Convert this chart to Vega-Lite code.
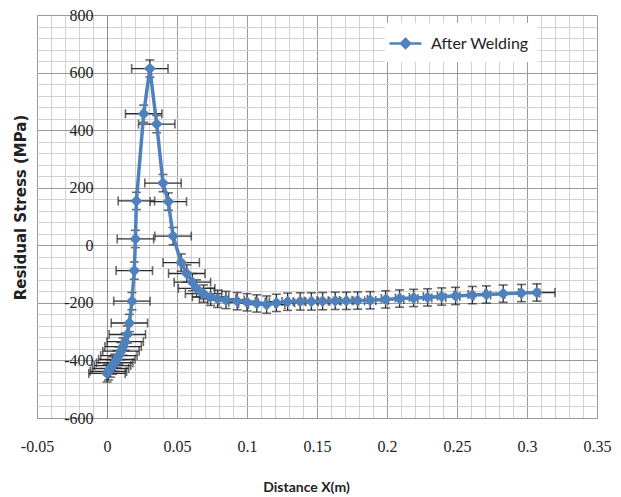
{
  "$schema": "https://vega.github.io/schema/vega-lite/v6.json",
  "width": 560,
  "height": 403,
  "autosize": {"type": "none"},
  "padding": {"left": 37, "top": 15, "right": 24, "bottom": 79},
  "background": "white",
  "config": {"view": {"stroke": "#8c8c8c", "strokeWidth": 1}},
  "data": {"values": [
    {"x": 0.000, "y": -445, "ex": 0.013, "ey": 30, "series": "After Welding"},
    {"x": 0.001, "y": -438, "ex": 0.013, "ey": 30, "series": "After Welding"},
    {"x": 0.0025, "y": -428, "ex": 0.013, "ey": 30, "series": "After Welding"},
    {"x": 0.004, "y": -418, "ex": 0.013, "ey": 30, "series": "After Welding"},
    {"x": 0.0055, "y": -408, "ex": 0.013, "ey": 30, "series": "After Welding"},
    {"x": 0.007, "y": -396, "ex": 0.013, "ey": 30, "series": "After Welding"},
    {"x": 0.0085, "y": -383, "ex": 0.013, "ey": 30, "series": "After Welding"},
    {"x": 0.010, "y": -368, "ex": 0.013, "ey": 30, "series": "After Welding"},
    {"x": 0.0115, "y": -352, "ex": 0.013, "ey": 30, "series": "After Welding"},
    {"x": 0.013, "y": -335, "ex": 0.013, "ey": 30, "series": "After Welding"},
    {"x": 0.0145, "y": -310, "ex": 0.013, "ey": 30, "series": "After Welding"},
    {"x": 0.016, "y": -270, "ex": 0.013, "ey": 30, "series": "After Welding"},
    {"x": 0.0178, "y": -194, "ex": 0.013, "ey": 30, "series": "After Welding"},
    {"x": 0.0195, "y": -88, "ex": 0.013, "ey": 30, "series": "After Welding"},
    {"x": 0.0203, "y": 22, "ex": 0.013, "ey": 30, "series": "After Welding"},
    {"x": 0.021, "y": 154, "ex": 0.013, "ey": 30, "series": "After Welding"},
    {"x": 0.0262, "y": 457, "ex": 0.013, "ey": 30, "series": "After Welding"},
    {"x": 0.0306, "y": 614, "ex": 0.013, "ey": 30, "series": "After Welding"},
    {"x": 0.0355, "y": 421, "ex": 0.013, "ey": 30, "series": "After Welding"},
    {"x": 0.040, "y": 216, "ex": 0.013, "ey": 30, "series": "After Welding"},
    {"x": 0.0438, "y": 152, "ex": 0.013, "ey": 30, "series": "After Welding"},
    {"x": 0.0472, "y": 32, "ex": 0.013, "ey": 30, "series": "After Welding"},
    {"x": 0.053, "y": -60, "ex": 0.013, "ey": 30, "series": "After Welding"},
    {"x": 0.057, "y": -98, "ex": 0.013, "ey": 30, "series": "After Welding"},
    {"x": 0.061, "y": -128, "ex": 0.013, "ey": 30, "series": "After Welding"},
    {"x": 0.064, "y": -150, "ex": 0.013, "ey": 30, "series": "After Welding"},
    {"x": 0.069, "y": -168, "ex": 0.013, "ey": 30, "series": "After Welding"},
    {"x": 0.074, "y": -179, "ex": 0.013, "ey": 30, "series": "After Welding"},
    {"x": 0.079, "y": -186, "ex": 0.013, "ey": 30, "series": "After Welding"},
    {"x": 0.085, "y": -190, "ex": 0.013, "ey": 30, "series": "After Welding"},
    {"x": 0.093, "y": -194, "ex": 0.013, "ey": 30, "series": "After Welding"},
    {"x": 0.100, "y": -198, "ex": 0.013, "ey": 30, "series": "After Welding"},
    {"x": 0.107, "y": -202, "ex": 0.013, "ey": 30, "series": "After Welding"},
    {"x": 0.114, "y": -206, "ex": 0.013, "ey": 30, "series": "After Welding"},
    {"x": 0.121, "y": -200, "ex": 0.013, "ey": 30, "series": "After Welding"},
    {"x": 0.129, "y": -196, "ex": 0.013, "ey": 30, "series": "After Welding"},
    {"x": 0.138, "y": -195, "ex": 0.013, "ey": 30, "series": "After Welding"},
    {"x": 0.146, "y": -195, "ex": 0.013, "ey": 30, "series": "After Welding"},
    {"x": 0.154, "y": -194, "ex": 0.013, "ey": 30, "series": "After Welding"},
    {"x": 0.163, "y": -193, "ex": 0.013, "ey": 30, "series": "After Welding"},
    {"x": 0.171, "y": -193, "ex": 0.013, "ey": 30, "series": "After Welding"},
    {"x": 0.179, "y": -192, "ex": 0.013, "ey": 30, "series": "After Welding"},
    {"x": 0.188, "y": -191, "ex": 0.013, "ey": 30, "series": "After Welding"},
    {"x": 0.199, "y": -188, "ex": 0.013, "ey": 30, "series": "After Welding"},
    {"x": 0.209, "y": -185, "ex": 0.013, "ey": 30, "series": "After Welding"},
    {"x": 0.219, "y": -183, "ex": 0.013, "ey": 30, "series": "After Welding"},
    {"x": 0.229, "y": -181, "ex": 0.013, "ey": 30, "series": "After Welding"},
    {"x": 0.239, "y": -178, "ex": 0.013, "ey": 30, "series": "After Welding"},
    {"x": 0.249, "y": -176, "ex": 0.013, "ey": 30, "series": "After Welding"},
    {"x": 0.261, "y": -173, "ex": 0.013, "ey": 30, "series": "After Welding"},
    {"x": 0.271, "y": -171, "ex": 0.013, "ey": 30, "series": "After Welding"},
    {"x": 0.283, "y": -168, "ex": 0.013, "ey": 30, "series": "After Welding"},
    {"x": 0.296, "y": -166, "ex": 0.013, "ey": 30, "series": "After Welding"},
    {"x": 0.307, "y": -164, "ex": 0.013, "ey": 30, "series": "After Welding"}
  ]},
  "layer": [
    {
      "mark": {"type": "errorbar", "color": "#2b2b2b", "thickness": 1.3, "ticks": {"size": 9, "thickness": 1.6, "color": "#2b2b2b"}},
      "encoding": {
        "x": {"field": "x", "type": "quantitative",
          "scale": {"domain": [-0.05, 0.35], "nice": false, "zero": false},
          "axis": {"orient": "bottom", "values": [-0.05,-0.04,-0.03,-0.02,-0.01,0,0.01,0.02,0.03,0.04,0.05,0.06,0.07,0.08,0.09,0.1,0.11,0.12,0.13,0.14,0.15,0.16,0.17,0.18,0.19,0.2,0.21,0.22,0.23,0.24,0.25,0.26,0.27,0.28,0.29,0.3,0.31,0.32,0.33,0.34,0.35],
            "grid": true, "gridColor": "#d2d2d2", "gridWidth": 1, "labels": false, "ticks": false, "domain": false, "title": null}},
        "xError": {"field": "ex"},
        "y": {"field": "y", "type": "quantitative",
          "scale": {"domain": [-600, 800], "nice": false, "zero": false},
          "axis": {"orient": "left", "values": [-600,-560,-520,-480,-440,-400,-360,-320,-280,-240,-200,-160,-120,-80,-40,0,40,80,120,160,200,240,280,320,360,400,440,480,520,560,600,640,680,720,760,800],
            "grid": true, "gridColor": "#d2d2d2", "gridWidth": 1, "labels": false, "ticks": false, "domain": false, "title": null}}
      }
    },
    {
      "mark": {"type": "errorbar", "color": "#2b2b2b", "thickness": 1.3, "ticks": {"size": 9, "thickness": 1.6, "color": "#2b2b2b"}},
      "encoding": {
        "x": {"field": "x", "type": "quantitative",
          "axis": {"orient": "bottom", "values": [-0.05,0,0.05,0.1,0.15,0.2,0.25,0.3,0.35],
            "grid": true, "gridColor": "#9a9a9a", "gridWidth": 1, "labels": false, "ticks": false, "domain": false, "title": null}},
        "y": {"field": "y", "type": "quantitative",
          "axis": {"orient": "left", "values": [-600,-400,-200,0,200,400,600,800],
            "grid": true, "gridColor": "#9a9a9a", "gridWidth": 1, "labels": false, "ticks": false, "domain": false, "title": null}},
        "yError": {"field": "ey"}
      }
    },
    {
      "mark": {"type": "line", "strokeWidth": 3.5, "point": {"shape": "diamond", "size": 140, "filled": true, "opacity": 1}},
      "encoding": {
        "x": {"field": "x", "type": "quantitative",
          "axis": {"orient": "bottom", "values": [-0.05,0,0.05,0.1,0.15,0.2,0.25,0.3,0.35], "labelExpr": "'' + datum.value",
            "grid": false, "ticks": false, "domain": false, "labelFont": "Liberation Serif, DejaVu Serif, serif", "labelFontSize": 16, "labelColor": "#222222", "labelPadding": 20, "labelFlush": false, "labelOverlap": false,
            "title": "Distance X(m)", "titleFont": "Lato", "titleFontSize": 14, "titleFontWeight": "bold", "titleColor": "#222222",
            "titleX": 269, "titleY": 69, "titleAlign": "center", "titleBaseline": "middle"}},
        "y": {"field": "y", "type": "quantitative",
          "axis": {"orient": "left", "offset": -70, "values": [-600,-400,-200,0,200,400,600,800], "labelExpr": "'' + datum.value",
            "grid": false, "ticks": false, "domain": true, "domainColor": "#8c8c8c", "labelFont": "Liberation Serif, DejaVu Serif, serif", "labelFontSize": 16, "labelColor": "#222222", "labelPadding": 14, "labelFlush": false, "labelOverlap": false,
            "title": "Residual Stress (MPa)", "titleFont": "DejaVu Sans", "titleFontSize": 15, "titleFontWeight": "bold", "titleColor": "#222222",
            "titleX": -87, "titleY": 192, "titleAngle": -90, "titleAlign": "center", "titleBaseline": "middle"}},
        "color": {"field": "series", "type": "nominal",
          "scale": {"domain": ["After Welding"], "range": ["#4F81BD"]},
          "legend": {"orient": "none", "legendX": 348, "legendY": 8, "title": null, "fillColor": "white", "padding": 9,
            "symbolType": "M-1.6,0L1.6,0M0,-0.45L0.45,0L0,0.45L-0.45,0Z", "symbolSize": 400, "symbolStrokeWidth": 2.5,
            "labelFont": "Lato", "labelFontSize": 16, "labelColor": "#222222", "labelOffset": 14,
            "encode": {"symbols": {"update": {"fill": {"value": "#4F81BD"}, "stroke": {"value": "#4F81BD"}, "strokeWidth": {"value": 2.5}, "opacity": {"value": 1}}}}}}
      }
    }
  ],
  "resolve": {"axis": {"x": "independent", "y": "independent"}}
}
